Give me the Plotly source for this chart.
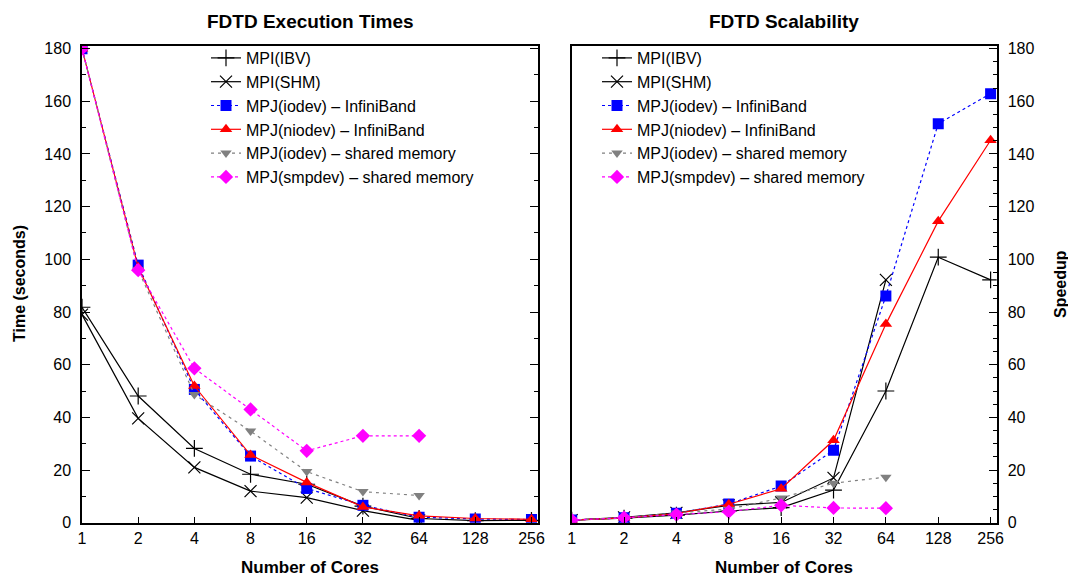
import plotly.graph_objects as go
import math

cores = [1, 2, 4, 8, 16, 32, 64, 128, 256]
cores_shm = [1, 2, 4, 8, 16, 32, 64]

# Execution times (seconds)
ibv_time = [81.8, 48.1, 28.2, 18.4, 14.6, 6.3, 1.6, 0.8, 0.9]
shm_time = [79.0, 39.6, 21.0, 12.0, 9.5, 4.6, 0.9]
iodev_ib_time = [180, 97.8, 50.6, 25.3, 13.0, 6.6, 2.1, 1.4, 1.2]
niodev_ib_time = [180, 97.0, 51.9, 25.7, 15.3, 6.0, 2.6, 1.6, 1.3]
iodev_shm_time = [180, 96.0, 48.7, 34.8, 19.4, 11.8, 10.3]
smpdev_time = [180, 95.9, 58.6, 43.0, 27.3, 33.0, 33.0]

# Speedup
ibv_sp = [1, 1.7, 2.9, 4.45, 5.7, 12.4, 50.0, 100.8, 92.2]
shm_sp = [1, 2.0, 3.76, 6.6, 7.7, 17.0, 92.2]
iodev_ib_sp = [1, 1.84, 3.56, 7.1, 13.9, 27.5, 86.1, 151.5, 162.9]
niodev_ib_sp = [1, 1.86, 3.47, 7.0, 12.9, 31.3, 75.4, 114.5, 145.2]
iodev_shm_sp = [1, 1.88, 3.7, 5.14, 9.4, 15.0, 17.3]
smpdev_sp = [1, 1.88, 3.07, 4.19, 6.6, 5.6, 5.5]

names = ["MPI(IBV)", "MPI(SHM)", "MPJ(iodev) – InfiniBand", "MPJ(niodev) – InfiniBand",
         "MPJ(iodev) – shared memory", "MPJ(smpdev) – shared memory"]
tick_labels = ["1", "2", "4", "8", "16", "32", "64", "128", "256"]

FONT = "Liberation Sans, Arial, Helvetica, sans-serif"

styles = [
    dict(line=dict(color="black", width=1.2),
         marker=dict(symbol="cross-thin", size=12, color="black", line=dict(color="black", width=1.2))),
    dict(line=dict(color="black", width=1.2),
         marker=dict(symbol="x-thin", size=12, color="black", line=dict(color="black", width=1.2))),
    dict(line=dict(color="blue", width=1.2, dash="dot"),
         marker=dict(symbol="square", size=11, color="blue")),
    dict(line=dict(color="red", width=1.2),
         marker=dict(symbol="triangle-up", size=11, color="red")),
    dict(line=dict(color="gray", width=1.2, dash="3px,4px"),
         marker=dict(symbol="triangle-down", size=10, color="gray")),
    dict(line=dict(color="magenta", width=1.2, dash="dot"),
         marker=dict(symbol="diamond", size=11, color="magenta")),
]

left_series = [(cores, ibv_time), (cores_shm, shm_time), (cores, iodev_ib_time),
               (cores, niodev_ib_time), (cores_shm, iodev_shm_time), (cores_shm, smpdev_time)]
right_series = [(cores, ibv_sp), (cores_shm, shm_sp), (cores, iodev_ib_sp),
                (cores, niodev_ib_sp), (cores_shm, iodev_shm_sp), (cores_shm, smpdev_sp)]

fig = go.Figure()
for i, (x, y) in enumerate(left_series):
    fig.add_trace(go.Scatter(x=x, y=y, name=names[i], mode="lines+markers",
                             xaxis="x", yaxis="y", legend="legend", **styles[i]))
for i, (x, y) in enumerate(right_series):
    fig.add_trace(go.Scatter(x=x, y=y, name=names[i], mode="lines+markers",
                             xaxis="x2", yaxis="y2", legend="legend2", **styles[i]))

W, H = 1068, 577
xr = [0, math.log10(256) + 0.035]
ydom = [1 - 522.7 / H, 1 - 46 / H]

common_x = dict(type="log", range=xr, tickvals=cores, ticktext=tick_labels,
                ticks="inside", ticklen=6, tickwidth=1.2, tickcolor="black",
                showline=True, linecolor="black", linewidth=1.5, mirror=True,
                showgrid=False, zeroline=False, automargin=False,
                tickfont=dict(family=FONT, size=16, color="black"))

fig.update_layout(
    template="none",
    width=W, height=H,
    margin=dict(l=0, r=0, t=0, b=0, autoexpand=False),
    paper_bgcolor="white", plot_bgcolor="white",
    font=dict(family=FONT, color="black"),
    xaxis=dict(domain=[82 / W, 538 / W], anchor="y", **common_x),
    xaxis2=dict(domain=[571.7 / W, 996.7 / W], anchor="y2", **common_x),
    yaxis=dict(domain=ydom, anchor="x", range=[0, 181], tickvals=list(range(0, 181, 20)),
               ticks="inside", ticklen=8, tickwidth=1.2, tickcolor="black",
               minor=dict(dtick=10, ticks="inside", ticklen=4, tickwidth=1.2, tickcolor="black"),
               showline=True, linecolor="black", linewidth=1.5, mirror="ticks",
               showgrid=False, zeroline=False, ticklabelstandoff=6, automargin=False,
               tickfont=dict(family=FONT, size=16, color="black")),
    yaxis2=dict(domain=ydom, anchor="x2", side="right", range=[0, 181],
                tickvals=list(range(0, 181, 20)),
                ticks="inside", ticklen=8, tickwidth=1.2, tickcolor="black",
                minor=dict(dtick=5, ticks="inside", ticklen=4, tickwidth=1.2, tickcolor="black"),
                showline=True, linecolor="black", linewidth=1.5, mirror=True,
                showgrid=False, zeroline=False, ticklabelstandoff=6, automargin=False,
                tickfont=dict(family=FONT, size=16, color="black")),
    legend=dict(x=206 / W, y=1 - 41 / H, xanchor="left", yanchor="top",
                bgcolor="rgba(0,0,0,0)", borderwidth=0, tracegroupgap=0,
                font=dict(family=FONT, size=16, color="black")),
    legend2=dict(x=597 / W, y=1 - 41 / H, xanchor="left", yanchor="top",
                 bgcolor="rgba(0,0,0,0)", borderwidth=0, tracegroupgap=0,
                 font=dict(family=FONT, size=16, color="black")),
    showlegend=True,
)

ann = [
    dict(text="<b>FDTD Execution Times</b>", x=310 / W, y=1 - 21 / H, size=19, angle=0),
    dict(text="<b>FDTD Scalability</b>", x=784 / W, y=1 - 21 / H, size=19, angle=0),
    dict(text="<b>Number of Cores</b>", x=310 / W, y=1 - 567 / H, size=17, angle=0),
    dict(text="<b>Number of Cores</b>", x=784 / W, y=1 - 567 / H, size=17, angle=0),
    dict(text="<b>Time (seconds)</b>", x=19 / W, y=1 - 284 / H, size=16, angle=-90),
    dict(text="<b>Speedup</b>", x=1060 / W, y=1 - 284 / H, size=16, angle=-90),
]
for a in ann:
    fig.add_annotation(text=a["text"], x=a["x"], y=a["y"], xref="paper", yref="paper",
                       xanchor="center", yanchor="middle", showarrow=False, textangle=a["angle"],
                       font=dict(family=FONT, size=a["size"], color="black"))

fig.write_html("out.html", config={"displayModeBar": False},
               post_script="document.body.style.margin='0px';document.body.style.overflow='hidden';")
